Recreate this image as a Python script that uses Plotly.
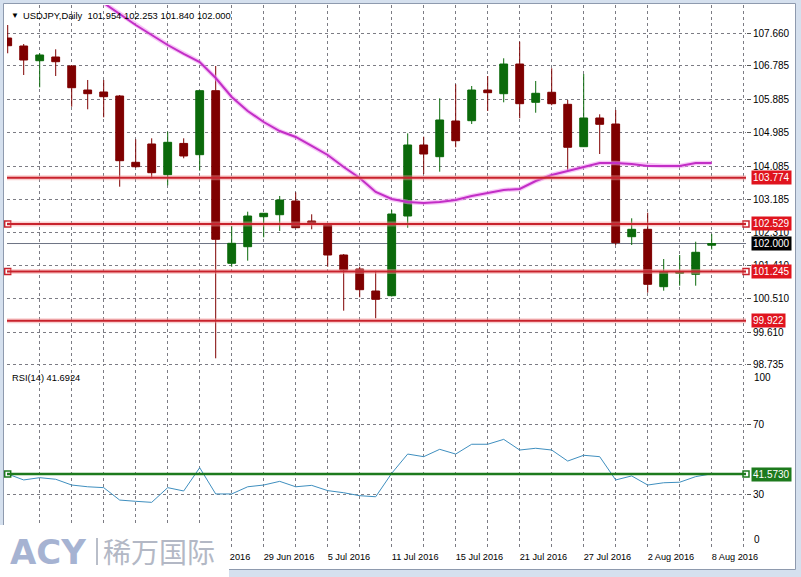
import plotly.graph_objects as go

# ---------------- data ----------------
dates = ["7 Jun 2016", "8 Jun 2016", "9 Jun 2016", "10 Jun 2016", "13 Jun 2016", "14 Jun 2016",
         "15 Jun 2016", "16 Jun 2016", "17 Jun 2016", "20 Jun 2016", "21 Jun 2016", "22 Jun 2016",
         "23 Jun 2016", "24 Jun 2016", "27 Jun 2016", "28 Jun 2016", "29 Jun 2016", "30 Jun 2016",
         "1 Jul 2016", "4 Jul 2016", "5 Jul 2016", "6 Jul 2016", "7 Jul 2016", "8 Jul 2016",
         "11 Jul 2016", "12 Jul 2016", "13 Jul 2016", "14 Jul 2016", "15 Jul 2016", "18 Jul 2016",
         "19 Jul 2016", "20 Jul 2016", "21 Jul 2016", "22 Jul 2016", "25 Jul 2016", "26 Jul 2016",
         "27 Jul 2016", "28 Jul 2016", "29 Jul 2016", "1 Aug 2016", "2 Aug 2016", "3 Aug 2016",
         "4 Aug 2016", "5 Aug 2016", "8 Aug 2016"]
# date labels shown on the time scale (earlier ones sit under the logo)
date_labels = ["23 Jun 2016", "29 Jun 2016", "5 Jul 2016", "11 Jul 2016", "15 Jul 2016",
               "21 Jul 2016", "27 Jul 2016", "2 Aug 2016", "8 Aug 2016"]

open_ = [107.533, 107.318, 106.922, 107.022, 106.780, 106.133, 106.080, 105.972, 104.187, 104.680,
         103.853, 104.695, 104.392, 106.115, 101.468, 101.915, 102.722, 102.776, 103.145, 102.606,
         102.526, 101.691, 101.314, 100.722, 100.596, 102.741, 104.653, 104.338, 105.299, 105.307,
         106.133, 106.034, 106.833, 105.802, 106.072, 105.748, 104.607, 105.380, 105.218, 102.184,
         102.383, 100.838, 101.198, 101.172, 101.954]
high = [107.883, 107.372, 107.122, 107.229, 106.806, 106.403, 106.403, 105.999, 104.806, 104.833,
        105.011, 104.833, 106.133, 106.780, 102.472, 102.857, 102.822, 103.280, 103.379, 102.787,
        102.540, 101.718, 101.376, 101.269, 102.903, 104.966, 104.876, 105.910, 106.287, 106.241,
        106.510, 106.987, 107.434, 106.376, 106.718, 105.864, 106.564, 105.479, 105.595, 102.679,
        102.830, 101.583, 101.691, 102.049, 102.253]
low = [107.122, 106.537, 106.206, 106.510, 105.684, 105.614, 105.398, 103.530, 104.040, 103.756,
       103.568, 104.295, 103.961, 98.910, 101.376, 101.538, 102.168, 102.337, 102.418, 102.383,
       101.376, 100.192, 100.552, 99.987, 100.574, 102.426, 103.872, 103.934, 104.591, 105.218,
       105.568, 105.802, 105.372, 105.522, 105.722, 103.961, 104.599, 104.410, 101.960, 101.960,
       100.676, 100.730, 100.865, 100.865, 101.840]
close = [107.326, 106.941, 107.076, 106.895, 106.195, 106.034, 105.953, 104.230, 104.068, 103.907,
         104.725, 104.357, 106.115, 102.114, 102.006, 102.741, 102.814, 103.172, 102.426, 102.526,
         101.691, 101.287, 100.757, 100.498, 102.795, 104.653, 104.410, 105.326, 104.768, 106.133,
         106.061, 106.833, 105.765, 106.045, 105.765, 104.591, 105.380, 105.210, 102.022, 102.383,
         100.902, 101.242, 101.242, 101.764, 102.000]

# moving average (visible from the 7th bar on)
ma = [None, None, None, None, None, None,
      108.476, 108.180, 107.883, 107.614, 107.345, 107.103, 106.887, 106.456, 105.945, 105.568,
      105.272, 105.029, 104.868, 104.626, 104.384, 104.061, 103.764, 103.387, 103.199, 103.118,
      103.091, 103.118, 103.172, 103.279, 103.360, 103.441, 103.468, 103.683, 103.845, 103.953,
      104.061, 104.168, 104.168, 104.141, 104.088, 104.088, 104.088, 104.168, 104.168]

rsi = [41.6, 38.2, 39.5, 38.6, 35.3, 34.3, 33.8, 26.7, 26.0, 25.4, 33.8, 31.9, 45.2, 30.2, 30.2,
       34.3, 35.3, 37.4, 34.3, 35.1, 32.1, 30.9, 29.2, 28.6, 42.0, 53.0, 51.5, 55.7, 53.0, 58.6,
       58.6, 61.4, 55.3, 56.3, 55.3, 49.0, 52.3, 51.5, 38.2, 40.5, 35.3, 36.6, 36.9, 40.1, 41.6924]

price_ticks = [107.660, 106.785, 105.885, 104.985, 104.085, 103.185, 102.310, 101.410,
               100.510, 99.610, 98.735]
rsi_ticks = [100, 70, 30, 0]
levels = [103.774, 102.529, 101.245, 99.922]
selected_levels = [102.529, 101.245]
last_price = 102.000
rsi_level = 41.5730
symbol = "USDJPY,Daily"
rsi_name = "RSI(14)"

# ---------------- geometry (pixels) ----------------
W, H = 801, 577
PLOT_L, PLOT_R = 7, 746
MAIN_T, MAIN_B = 5, 366
RSI_T, RSI_B = 370, 547
BAR0_PX, BAR_STEP = 7.7, 16.0
TOPTICK_PX, BOTTICK_PX = 33.3, 364.8
R70_PX, R30_PX = 424.3, 494.3


def fx(p):
    return p / W


def fy(p):
    return 1 - p / H


xr = [(PLOT_L - BAR0_PX) / BAR_STEP, (PLOT_R - BAR0_PX) / BAR_STEP]
pscale = (price_ticks[0] - price_ticks[-1]) / (BOTTICK_PX - TOPTICK_PX)
yr = [price_ticks[-1] - (MAIN_B - BOTTICK_PX) * pscale,
      price_ticks[0] + (TOPTICK_PX - MAIN_T) * pscale]
rscale = (70 - 30) / (R30_PX - R70_PX)
y2r = [30 - (RSI_B - R30_PX) * rscale, 70 + (R70_PX - RSI_T) * rscale]

idx = list(range(len(dates)))

BULL = "#0b6a0b"
BEAR = "#7f0000"
LVL = "#c8222c"
GRID = "#7c7c84"
FONT = "Liberation Sans"

fig = go.Figure()

fig.add_trace(go.Candlestick(
    x=idx, open=open_, high=high, low=low, close=close,
    increasing=dict(line=dict(color=BULL, width=1), fillcolor=BULL),
    decreasing=dict(line=dict(color=BEAR, width=1), fillcolor=BEAR),
    whiskerwidth=0, xaxis="x", yaxis="y", showlegend=False, hoverinfo="skip"))

fig.add_trace(go.Scatter(x=idx, y=ma, mode="lines", line=dict(color="rgba(240,150,240,0.55)", width=4.5),
                         xaxis="x", yaxis="y", hoverinfo="skip"))
fig.add_trace(go.Scatter(x=idx, y=ma, mode="lines", line=dict(color="#c22ec6", width=2),
                         xaxis="x", yaxis="y", hoverinfo="skip"))

fig.add_trace(go.Scatter(x=idx, y=rsi, mode="lines", line=dict(color="#3f8fbf", width=1),
                         xaxis="x2", yaxis="y2", hoverinfo="skip"))

shapes = []
# white chart window with frame
shapes.append(dict(type="rect", xref="paper", yref="paper", x0=fx(3.5), x1=fx(795.5),
                   y0=fy(569.5), y1=fy(3.5), fillcolor="white",
                   line=dict(color="#8e9aae", width=1), layer="below"))
# horizontal level lines
for lv in levels:
    shapes.append(dict(type="line", xref="x domain", yref="y", x0=0, x1=1, y0=lv, y1=lv,
                       line=dict(color="rgba(245,150,150,0.45)", width=5), layer="above"))
    shapes.append(dict(type="line", xref="x domain", yref="y", x0=0, x1=1, y0=lv, y1=lv,
                       line=dict(color=LVL, width=2), layer="above"))
# last price line
shapes.append(dict(type="line", xref="x domain", yref="y", x0=0, x1=1, y0=last_price, y1=last_price,
                   line=dict(color="#6d7384", width=1), layer="below"))
# RSI level line
shapes.append(dict(type="line", xref="x2 domain", yref="y2", x0=0, x1=1, y0=rsi_level, y1=rsi_level,
                   line=dict(color="#1d7a1d", width=2.5), layer="above"))
# logo panel
shapes.append(dict(type="rect", xref="paper", yref="paper", x0=0, x1=fx(229), y0=0, y1=fy(525),
                   fillcolor="white", line=dict(width=0), layer="above"))
shapes.append(dict(type="line", xref="paper", yref="paper", x0=fx(97), x1=fx(97), y0=fy(565), y1=fy(538),
                   line=dict(color="#b9bec9", width=2), layer="above"))

# selection squares on the selected lines
fig.add_trace(go.Scatter(
    x=[0, xr[1]] * len(selected_levels),
    y=[v for v in selected_levels for _ in range(2)],
    mode="markers", marker=dict(symbol="square", size=6, color="white", line=dict(color=LVL, width=1.5)),
    cliponaxis=False, xaxis="x", yaxis="y", hoverinfo="skip"))
fig.add_trace(go.Scatter(
    x=[0, xr[1]], y=[rsi_level, rsi_level],
    mode="markers", marker=dict(symbol="square", size=6, color="white", line=dict(color="#1d7a1d", width=1.5)),
    cliponaxis=False, xaxis="x2", yaxis="y2", hoverinfo="skip"))

ann = []
ann.append(dict(xref="paper", yref="paper", x=fx(9), y=fy(15), xanchor="left", yanchor="middle",
                text="▼", showarrow=False, font=dict(family=FONT, size=8, color="black")))
ann.append(dict(xref="paper", yref="paper", x=fx(21), y=fy(15), xanchor="left", yanchor="middle",
                text=f"{symbol}  {open_[-1]:.3f} {high[-1]:.3f} {low[-1]:.3f} {close[-1]:.3f}",
                showarrow=False, font=dict(family=FONT, size=9.4, color="black")))
ann.append(dict(xref="paper", yref="paper", x=fx(10), y=fy(378), xanchor="left", yanchor="middle",
                text=f"{rsi_name} {rsi[-1]:.4f}", showarrow=False,
                font=dict(family=FONT, size=9.3, color="black")))

# right-side value boxes
for lv in levels:
    ann.append(dict(xref="paper", yref="y", x=fx(751), y=lv, xanchor="left", yanchor="middle",
                    text=f"{lv:.3f}", showarrow=False, bgcolor="#e0141e", borderpad=1,
                    font=dict(family=FONT, size=10, color="white")))
ann.append(dict(xref="paper", yref="y", x=fx(751), y=last_price, xanchor="left", yanchor="middle",
                text=f"{last_price:.3f}", showarrow=False, bgcolor="black", borderpad=1,
                font=dict(family=FONT, size=10, color="white")))
ann.append(dict(xref="paper", yref="y2", x=fx(751), y=rsi_level, xanchor="left", yanchor="middle",
                text=f"{rsi_level:.4f}", showarrow=False, bgcolor="#1d7a1d", borderpad=1,
                font=dict(family=FONT, size=10, color="white")))
# RSI scale end labels (clamped inside the panel)
ann.append(dict(xref="paper", yref="y2 domain", x=fx(752), y=1, xanchor="left", yanchor="top",
                text=str(rsi_ticks[0]), showarrow=False, font=dict(family=FONT, size=10, color="black")))
ann.append(dict(xref="paper", yref="y2 domain", x=fx(752), y=0, xanchor="left", yanchor="bottom",
                text=str(rsi_ticks[-1]), showarrow=False, font=dict(family=FONT, size=10, color="black")))
# logo
ann.append(dict(xref="paper", yref="paper", x=fx(8), y=fy(552), xanchor="left", yanchor="middle",
                text="<b>ACY</b>", showarrow=False, font=dict(family="DejaVu Sans", size=34, color="#a6b3d2")))
ann.append(dict(xref="paper", yref="paper", x=fx(101), y=fy(551), xanchor="left", yanchor="middle",
                text="稀万国际", showarrow=False, font=dict(family="Noto Sans CJK SC", size=28, color="#b3b8c5")))

grid_vals = list(range(0, int(xr[1]) + 1, 2))
label_pos = {dates.index(d): d for d in date_labels}
grid_text = [label_pos.get(i, "") for i in grid_vals]

axis_common = dict(showline=False, zeroline=False, gridcolor=GRID, griddash="3px,3px", gridwidth=1,
                   automargin=False)

fig.update_layout(
    width=W, height=H, margin=dict(l=0, r=0, t=0, b=0, pad=0, autoexpand=False),
    paper_bgcolor="#d5e0ee", plot_bgcolor="white", showlegend=False,
    font=dict(family=FONT, size=10, color="black"),
    xaxis=dict(domain=[fx(PLOT_L), fx(PLOT_R)], range=xr, anchor="y", tickvals=grid_vals,
               showticklabels=False, ticks="", showgrid=True, rangeslider=dict(visible=False),
               **axis_common),
    xaxis2=dict(domain=[fx(PLOT_L), fx(PLOT_R)], range=xr, anchor="y2", matches="x",
                tickvals=grid_vals, ticktext=grid_text, ticks="", showgrid=True, tickangle=0,
                ticklabelposition="outside right", ticklabelstandoff=3,
                tickfont=dict(size=9.2), **axis_common),
    yaxis=dict(domain=[fy(MAIN_B), fy(MAIN_T)], range=yr, anchor="x", side="right",
               tickvals=price_ticks, ticktext=[f"{v:.3f}" for v in price_ticks],
               ticks="outside", ticklen=4, tickcolor="#555", showgrid=True,
               tickfont=dict(size=10), **axis_common),
    yaxis2=dict(domain=[fy(RSI_B), fy(RSI_T)], range=y2r, anchor="x2", side="right",
                tickvals=rsi_ticks[1:-1], ticks="outside", ticklen=4, tickcolor="#555",
                showgrid=True, tickfont=dict(size=10), **axis_common),
    shapes=shapes, annotations=ann,
)

fig.write_html("out.html", config={"displayModeBar": False, "staticPlot": True},
               post_script="document.body.style.margin='0';document.body.style.overflow='hidden';")
